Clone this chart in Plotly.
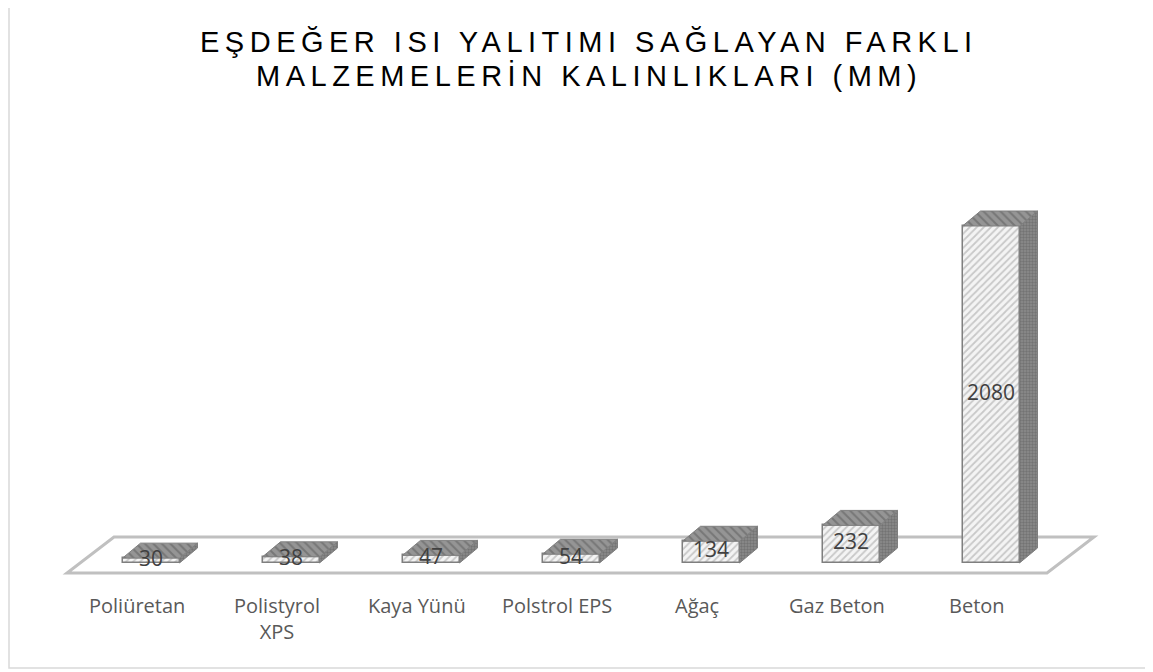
import plotly.graph_objects as go

categories = ["Poliüretan", "Polistyrol<br>XPS", "Kaya Yünü", "Polstrol EPS", "Ağaç", "Gaz Beton", "Beton"]
values = [30, 38, 47, 54, 134, 232, 2080]
title_lines = ["EŞDEĞER ISI YALITIMI SAĞLAYAN FARKLI", "MALZEMELERİN KALINLIKLARI (MM)"]

W, H = 1153, 672
OFF = 8.0               # page offset of the plot div
CAT_PX = 140.0          # pixels per category
X0_PX = 151.0 - OFF     # pixel of first bar centre
BASE_PX = 563.0 - OFF   # pixel of value 0
MM_PER_PX = 2080 / 337.0

bar_w = 57 / CAT_PX
dx = 18 / CAT_PX
dy = 15 * MM_PER_PX
label_shift = -14 / CAT_PX

xr = [-X0_PX / CAT_PX, (W - X0_PX) / CAT_PX]
yr = [-(H - BASE_PX) * MM_PER_PX, BASE_PX * MM_PER_PX]

n = len(categories)
xs = list(range(n))

fig = go.Figure()

# side faces
sx, sy = [], []
for x, v in zip(xs, values):
    r = x + bar_w / 2
    sx += [r, r, r + dx, r + dx, r, None]
    sy += [0, v, v + dy, dy, 0, None]
fig.add_trace(go.Scatter(x=sx, y=sy, mode="lines", fill="toself",
                         line=dict(color="#7f7f7f", width=1),
                         fillcolor="#8c8c8c",
                         fillpattern=dict(shape=".", bgcolor="#8c8c8c", fgcolor="#5a5a5a",
                                          size=3, solidity=0.5),
                         hoverinfo="skip", showlegend=False))
# top faces
tx, ty = [], []
for x, v in zip(xs, values):
    l, r = x - bar_w / 2, x + bar_w / 2
    tx += [l, r, r + dx, l + dx, l, None]
    ty += [v, v, v + dy, v + dy, v, None]
fig.add_trace(go.Scatter(x=tx, y=ty, mode="lines", fill="toself",
                         line=dict(color="#7f7f7f", width=1),
                         fillcolor="#8c8c8c",
                         fillpattern=dict(shape="\\", bgcolor="#959595", fgcolor="#5a5a5a",
                                          size=6, solidity=0.35),
                         hoverinfo="skip", showlegend=False))
# front faces
fig.add_trace(go.Bar(x=xs, y=values, width=bar_w,
                     marker=dict(color="#f2f2f2",
                                 line=dict(color="#7f7f7f", width=1.5),
                                 pattern=dict(shape="/", bgcolor="#f4f4f4", fgcolor="#9c9c9c",
                                              size=5, solidity=0.35)),
                     hoverinfo="skip", showlegend=False))
# data labels
fig.add_trace(go.Scatter(x=xs, y=[v / 2 for v in values], mode="text",
                         text=[str(v) for v in values],
                         textfont=dict(family="Open Sans", size=21, color="#404040"),
                         hoverinfo="skip", showlegend=False))

# floor
fy0 = -10 * MM_PER_PX
fy1 = 26 * MM_PER_PX
fdx = 47 / CAT_PX
fl = label_shift - 0.5
fr = (n - 1) + label_shift + 0.5
floor_path = (f"M {fl},{fy0} L {fr},{fy0} L {fr + fdx},{fy1} L {fl + fdx},{fy1} Z")
shapes = [dict(type="path", path=floor_path, xref="x", yref="y", layer="below",
               line=dict(color="#c0c0c0", width=3), fillcolor="white"),
          dict(type="rect", xref="paper", yref="paper", layer="below",
               x0=1 / W, x1=1.05, y0=(H - (668 - OFF)) / H, y1=1.05,
               line=dict(color="#d9d9d9", width=1.5), fillcolor="white")]

annotations = []
for x, c in zip(xs, categories):
    annotations.append(dict(x=x + label_shift, y=-(590 - 563) * MM_PER_PX, xref="x", yref="y",
                            text=c, showarrow=False, yanchor="top", xanchor="center",
                            font=dict(family="Open Sans", size=20, color="#595959")))
for i, (t, yc) in enumerate(zip(title_lines, [42, 76])):
    annotations.append(dict(x=0.5 + 4 / W, y=1 - (yc - OFF) / H, xref="paper", yref="paper",
                            yanchor="middle", xanchor="center",
                            text=f'<span style="letter-spacing:5.5px">{t}</span>',
                            showarrow=False, align="center",
                            font=dict(family="Liberation Sans", size=29, color="#000000")))

fig.update_layout(width=W, height=H, margin=dict(l=0, r=0, t=0, b=0),
                  paper_bgcolor="white", plot_bgcolor="rgba(0,0,0,0)",
                  xaxis=dict(range=xr, visible=False, fixedrange=True),
                  yaxis=dict(range=yr, visible=False, fixedrange=True),
                  shapes=shapes, annotations=annotations, bargap=0)

fig.write_html("out.html")
